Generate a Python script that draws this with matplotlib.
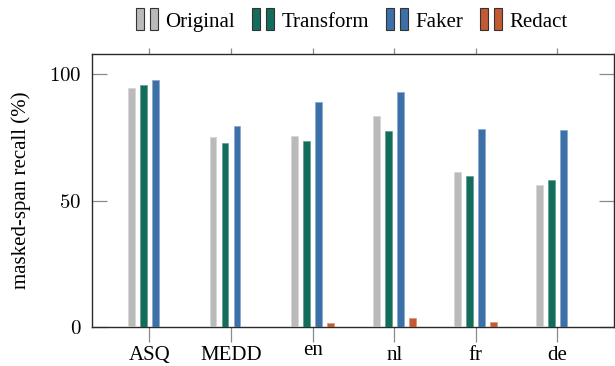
import matplotlib
matplotlib.use("Agg")
import matplotlib.pyplot as plt
import matplotlib.transforms as mtransforms
import numpy as np
from matplotlib.legend_handler import HandlerBase
from matplotlib.patches import Patch, Rectangle

# ── data ─────────────────────────────────────────────────────────────────────
categories = ["ASQ", "MEDD", "en", "nl", "fr", "de"]
original  = [94.5, 75.3, 75.6, 83.5, 61.3, 56.1]
transform = [95.8, 72.8, 73.5, 77.7, 59.8, 58.2]
faker     = [97.7, 79.7, 89.2, 93.0, 78.5, 78.1]
redact    = [np.nan, np.nan, 1.7, 3.7, 2.0, np.nan]
series_names = ["Original", "Transform", "Faker", "Redact"]
y_ticks = [0, 50, 100]

colors = ["#bababa", "#126e5b", "#3b70a8", "#c35a34"]
edges  = ["#d4d4d4", "#5f9c8f", "#86a6cb", "#d99479"]

plt.rcParams["font.family"] = ["Liberation Serif", "DejaVu Serif"]
plt.rcParams["mathtext.fontset"] = "cm"
FS = 15


class TwoBarHandler(HandlerBase):
    def create_artists(self, legend, orig_handle, xdescent, ydescent,
                       width, height, fontsize, trans):
        fc = orig_handle.get_facecolor()
        w = width * 0.36
        h = height * 1.5
        y0 = -ydescent - height * 0.2
        r1 = Rectangle((-xdescent, y0), w, h, facecolor=fc,
                       edgecolor="#333333", linewidth=0.8, transform=trans)
        r2 = Rectangle((-xdescent + width - w, y0), w, h, facecolor=fc,
                       edgecolor="#333333", linewidth=0.8, transform=trans)
        return [r1, r2]


fig = plt.figure(figsize=(6.15, 3.66), dpi=100)
ax = fig.add_axes([0.150, 0.1066, 0.848, 0.7459])

x = np.arange(len(categories))
width = 0.082
offsets = np.array([-1.5, -0.5, 0.5, 1.5]) * 0.147
all_vals = [original, transform, faker, redact]

handles = []
for i, vals in enumerate(all_vals):
    ax.bar(x + offsets[i], vals, width=width, color=colors[i],
           edgecolor=edges[i], linewidth=0.5, zorder=3)
    handles.append(Patch(facecolor=colors[i], label=series_names[i]))

ax.set_xlim(-0.70, 5.69)
ax.set_ylim(0, 108)

ax.set_xticks(x)
ax.set_xticklabels(categories, fontsize=FS)
ax.set_yticks(y_ticks)
ax.set_yticklabels([f"${v}$" for v in y_ticks], fontsize=FS)

ax.tick_params(axis="y", direction="in", length=11, width=0.9,
               color="#8a8a8a", pad=8, left=True, right=True)
ax.tick_params(axis="x", direction="out", length=11, width=0.9,
               color="#8a8a8a", pad=3, bottom=True, top=False)

# labels anchored at the top of their ink, like pgfplots: no-ascender words sit higher
for lbl in ax.get_xticklabels():
    if not any(c in lbl.get_text() for c in "ABCDEFGHIJKLMNOPQRSTUVWXYZbdfhklt"):
        lbl.set_transform(lbl.get_transform() +
                          mtransforms.ScaledTranslation(0, 5 / 100, fig.dpi_scale_trans))

# short ticks on top edge
ax_top = ax.secondary_xaxis("top")
ax_top.set_xticks(x)
ax_top.set_xticklabels([])
ax_top.tick_params(axis="x", direction="out", length=4, width=0.9,
                   color="#8a8a8a")
ax_top.spines["top"].set_visible(False)

for s in ax.spines.values():
    s.set_color("#2a2a2a")
    s.set_linewidth(1.0)

ax.set_ylabel("masked-span recall (%)", fontsize=FS)
ax.yaxis.set_label_coords(-0.118, 0.5)

fig.legend(handles=handles, handler_map={Patch: TwoBarHandler()},
           loc="center", bbox_to_anchor=(0.572, 0.94), ncol=4,
           frameon=False, fontsize=FS, handlelength=1.06,
           handletextpad=0.34, columnspacing=0.82, borderaxespad=0)

fig.savefig("out.png", dpi=100)
